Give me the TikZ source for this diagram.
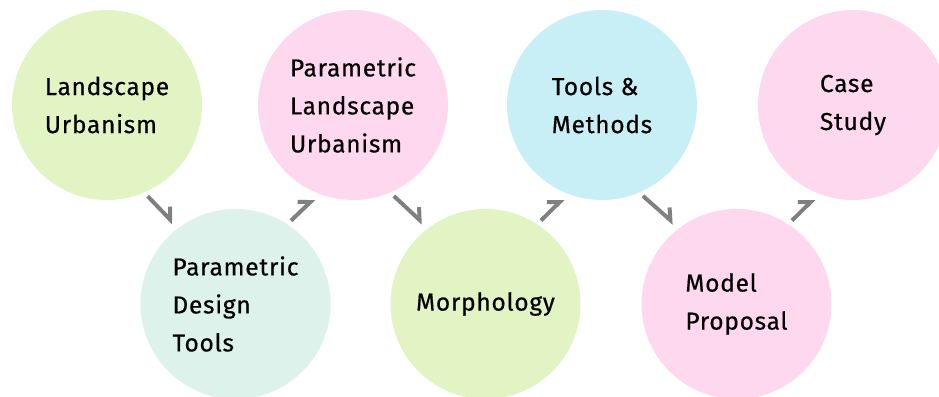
\documentclass[tikz,border=0pt]{standalone}
\usepackage{fontspec}
\setsansfont[LetterSpace=3,FakeBold=0.5]{Fira Sans}
\usetikzlibrary{arrows.meta}
\definecolor{cgreen}{HTML}{E2F4C4}
\definecolor{cpink}{HTML}{FED8EF}
\definecolor{cmint}{HTML}{DDF2EB}
\definecolor{ccyan}{HTML}{C9EFF6}
\definecolor{cgray}{HTML}{808080}

\begin{document}
\begin{tikzpicture}[x=1pt,y=1pt,
    bubble/.style={circle,minimum size=190pt,inner sep=0pt,align=left,
      font=\sffamily\fontsize{24.5}{38}\selectfont},
    flow/.style={draw=cgray,line width=4pt,
      -{Straight Barb[left,length=9pt,angle'=90]},shorten <=5pt,shorten >=7pt}]
    \useasboundingbox (0,0) rectangle (939,-396);
    \node[bubble,fill=cgreen] (A) at (107,-105) {Landscape\\Urbanism};
    \node[bubble,fill=cmint]  (B) at (235.5,-304) {Parametric\\Design\\Tools};
    \node[bubble,fill=cpink]  (C) at (353,-105) {Parametric\\Landscape\\Urbanism};
    \node[bubble,fill=cgreen] (D) at (485.5,-304) {Morphology};
    \node[bubble,fill=ccyan]  (E) at (602,-105) {Tools \&\\Methods};
    \node[bubble,fill=cpink]  (F) at (736.5,-304) {Model\\Proposal};
    \node[bubble,fill=cpink]  (G) at (853,-105) {Case\\Study};
    \draw[flow] (A.-67) -- (B.127);
    \draw[flow] (B.57) -- (C.-111);
    \draw[flow] (C.-67) -- (D.127);
    \draw[flow] (D.57) -- (E.-111);
    \draw[flow] (E.-67) -- (F.127);
    \draw[flow] (F.57) -- (G.-111);
\end{tikzpicture}
\end{document}
